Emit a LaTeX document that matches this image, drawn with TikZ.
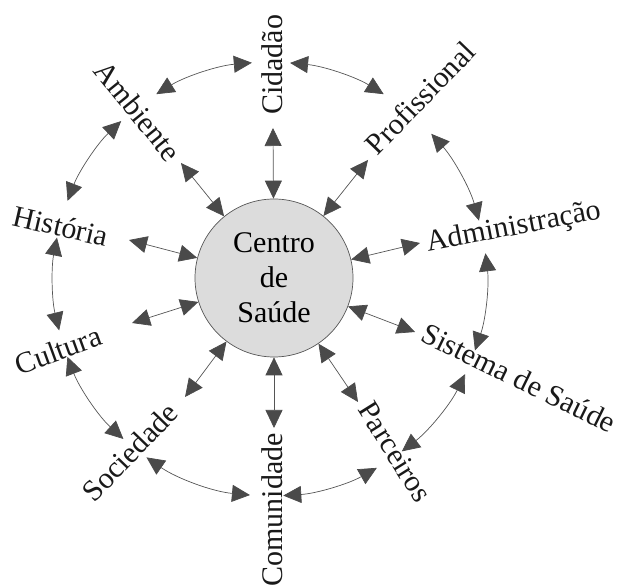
\documentclass[tikz,border=0pt]{standalone}
\usepackage{fontspec}
\setmainfont{Liberation Serif}
\usetikzlibrary{arrows.meta}
\definecolor{linegray}{HTML}{555555}
\definecolor{tipgray}{HTML}{4A4A4A}
\definecolor{hubfill}{HTML}{DCDCDC}
\begin{document}
\begin{tikzpicture}[x=1pt,y=1pt,
  lbl/.style={inner sep=0pt, font=\fontsize{30}{36}\selectfont, text=black!90},
  dbl/.style={draw=linegray, line width=0.7pt,
    {Triangle[length=18pt,width=17pt,fill=tipgray,color=tipgray]}-{Triangle[length=18pt,width=17pt,fill=tipgray,color=tipgray]}},
  hub/.style={circle, draw=linegray, line width=0.7pt, fill=hubfill, minimum size=158pt, inner sep=0pt,
    align=center, font=\fontsize{30}{35}\selectfont}]
\useasboundingbox (0,0) rectangle (623,588);

% centre
\node[hub] (c) at (274,310) {Centro\\de\\Saúde};
\coordinate (O) at (270,309);

% labels
\node[lbl, rotate=90]  (cid) at (272,523) {Cidadão};
\node[lbl, rotate=-51] (amb) at (138,477) {Ambiente};
\node[lbl, rotate=46]  (pro) at (420,490) {Profissional};
\node[lbl, rotate=11]  (adm) at (514,360) {Administração};
\node[lbl, rotate=-26] (sis) at (519,210) {Sistema de Saúde};
\node[lbl, rotate=-58] (par) at (395,136) {Parceiros};
\node[lbl, rotate=90]  (com) at (272,78)  {Comunidade};
\node[lbl, rotate=46]  (soc) at (130,136) {Sociedade};
\node[lbl, rotate=20]  (cul) at (58,238)  {Cultura};
\node[lbl, rotate=-13] (his) at (61,362)  {História};

% radial connector ends
\coordinate (rcid) at (273,460);
\coordinate (ramb) at (181,425);
\coordinate (rpro) at (368,428);
\coordinate (radm) at (420,345);
\coordinate (rsis) at (415,256);
\coordinate (rpar) at (358,186);
\coordinate (rcom) at (274,160);
\coordinate (rsoc) at (185,191);
\coordinate (rcul) at (132,265);
\coordinate (rhis) at (129,348);

\foreach \r in {rcid,ramb,rpro,radm,rsis,rpar,rcom,rsoc,rcul,rhis}
  \draw[dbl] (c) -- (\r);

% ring connectors between neighbouring labels
\foreach \n/\a/\b in {ambcid/121.6/94.8, cidpro/84.7/58.4, proadm/42/15.6,
  admsis/6.8/-19.2, sispar/-26/-52.6, parcom/-60.5/-86.5, comsoc/-95.3/-124.7,
  soccul/-132.5/-159, culhis/-166.3/-191, hisamb/158.9/133.3}{
  \coordinate (\n) at ([shift={(\a:217pt)}]O);
  \draw[dbl] (\n) arc[start angle=\a, end angle=\b, radius=217pt];
}
\end{tikzpicture}
\end{document}
